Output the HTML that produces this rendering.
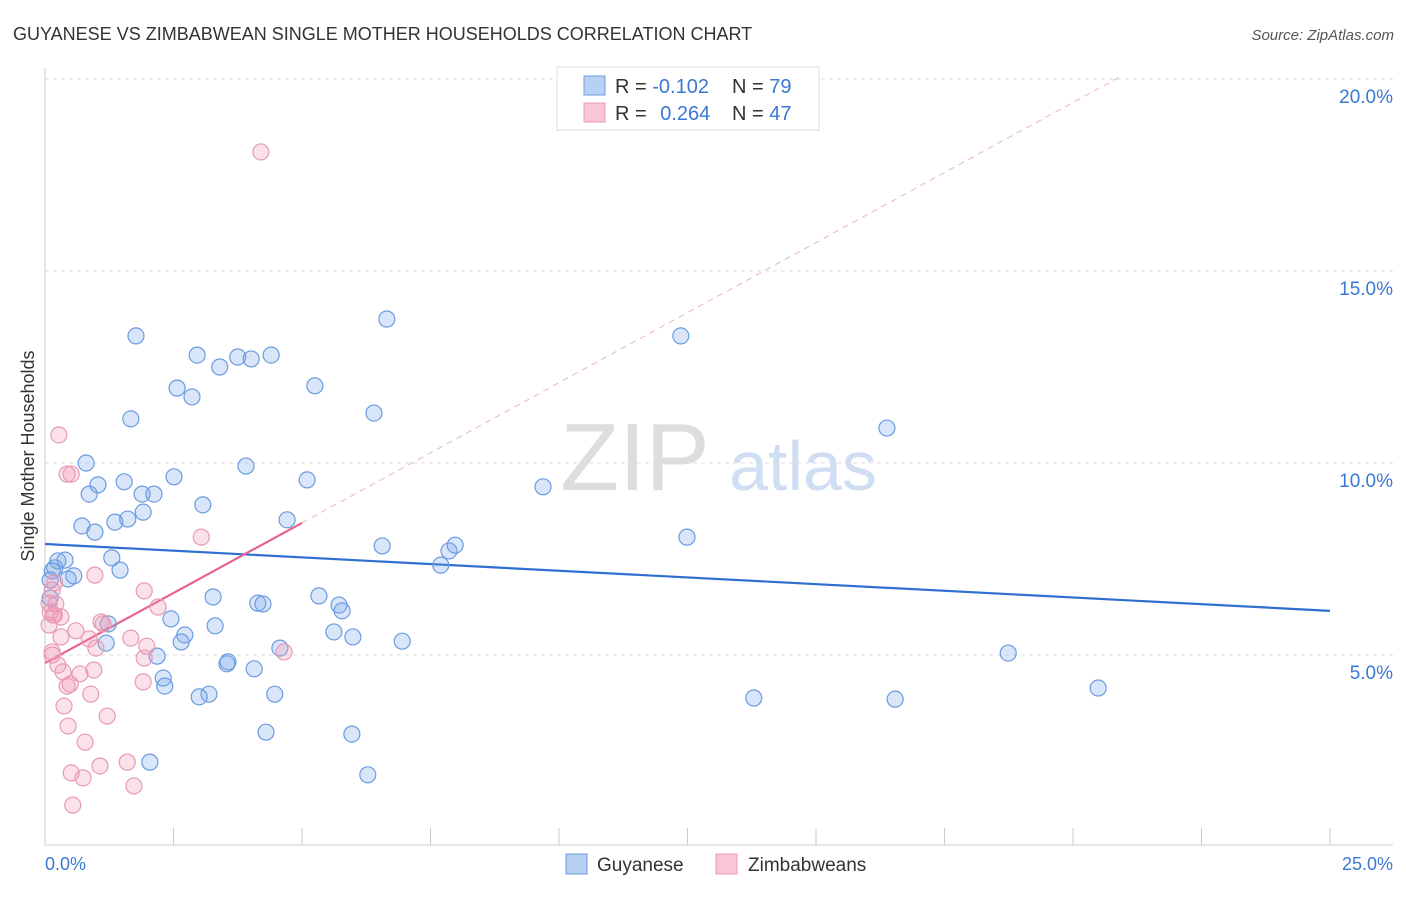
<!DOCTYPE html>
<html><head><meta charset="utf-8">
<style>
body{margin:0;background:#fff;font-family:"Liberation Sans",sans-serif;}
svg text{font-family:"Liberation Sans",sans-serif;}
</style></head>
<body>
<svg id="chart" width="1406" height="892" xmlns="http://www.w3.org/2000/svg">
<text x="13" y="40" font-size="18" fill="#333">GUYANESE VS ZIMBABWEAN SINGLE MOTHER HOUSEHOLDS CORRELATION CHART</text>
<text x="1394" y="40" font-size="15" fill="#555" text-anchor="end" font-style="italic">Source: ZipAtlas.com</text>
<g>
<text x="635" y="490" font-size="96" fill="#ddd" font-family="Liberation Serif" text-anchor="middle">ZIP</text>
<text x="803" y="490" font-size="70" fill="#d0def3" text-anchor="middle">atlas</text>
</g>
<g id="grid"></g>
<g id="axes"></g>
<g id="trends"></g>
<g id="points"></g>
<text transform="translate(34,456) rotate(-90)" font-size="18" fill="#333" text-anchor="middle">Single Mother Households</text>
<text x="45" y="870" font-size="18" fill="#3a78d4">0.0%</text>
<text x="1393" y="870" font-size="18" fill="#3a78d4" text-anchor="end">25.0%</text>
<g>
<rect x="557" y="67" width="262" height="63" fill="#fff" stroke="#ddd"/>
<rect x="584" y="76" width="21" height="19" fill="#b7d0f3" stroke="#6a9be0"/>
<rect x="584" y="103" width="21" height="19" fill="#f9c6d5" stroke="#e89ab5"/>
<text x="615" y="93" font-size="20" fill="#333">R = <tspan fill="#3a78d4">-0.102</tspan><tspan x="732">N = </tspan><tspan fill="#3a78d4">79</tspan></text>
<text x="615" y="120" font-size="20" fill="#333">R = <tspan fill="#3a78d4" dx="8">0.264</tspan><tspan x="732">N = </tspan><tspan fill="#3a78d4">47</tspan></text>
</g>
<g>
<rect x="566" y="854" width="21" height="20" fill="#b7d0f3" stroke="#6a9be0"/>
<text x="597" y="871" font-size="19" fill="#333">Guyanese</text>
<rect x="716" y="854" width="21" height="20" fill="#f9c6d5" stroke="#e89ab5"/>
<text x="748" y="871" font-size="19" fill="#333">Zimbabweans</text>
</g>
</svg>
<script>
const blueX=[1.77,2.96,3.75,4.01,4.40,3.40,2.57,2.86,5.25,6.65,12.37,6.40,1.67,16.38,0.80,3.91,2.51,5.10,1.54,1.03,0.86,1.89,2.12,9.69,3.07,1.91,4.71,0.72,1.36,1.61,0.97,12.49,6.56,7.86,7.98,7.70,1.30,1.46,0.39,0.25,0.19,0.14,0.45,0.56,0.10,0.10,3.27,4.14,4.24,5.33,5.72,5.78,2.45,3.31,1.23,2.72,2.65,5.62,5.99,6.95,4.57,1.19,2.18,3.56,3.54,4.07,2.30,2.33,18.74,3.19,3.00,4.47,13.79,16.54,20.49,4.30,5.97,2.04,6.28];
const blueY=[13.31,12.81,12.76,12.71,12.81,12.50,11.95,11.72,12.01,13.75,13.31,11.30,11.15,10.91,10.00,9.92,9.64,9.56,9.51,9.43,9.19,9.19,9.19,9.38,8.91,8.72,8.52,8.36,8.46,8.54,8.20,8.07,7.84,7.71,7.86,7.34,7.53,7.21,7.47,7.45,7.27,7.19,6.98,7.06,6.95,6.48,6.51,6.35,6.33,6.54,6.30,6.15,5.94,5.76,5.81,5.52,5.34,5.60,5.47,5.36,5.18,5.31,4.97,4.82,4.77,4.64,4.40,4.19,5.05,3.98,3.91,3.98,3.88,3.85,4.14,2.99,2.94,2.21,1.88];
const pinkX=[4.20,0.27,0.43,0.51,3.04,0.97,0.19,0.14,1.93,0.08,0.21,0.31,0.18,2.20,0.10,1.09,0.60,1.13,0.31,1.67,0.86,0.99,1.98,4.65,1.93,0.14,0.25,0.95,0.35,0.68,0.43,0.49,1.91,0.89,0.37,1.21,0.45,0.78,1.60,1.07,0.51,0.74,1.73,0.54,0.16,0.08,0.14];
const pinkY=[18.10,10.73,9.71,9.71,8.07,7.08,6.88,6.69,6.67,6.35,6.33,5.99,6.04,6.25,6.12,5.86,5.63,5.81,5.47,5.44,5.42,5.18,5.23,5.08,4.92,5.08,4.74,4.61,4.56,4.51,4.19,4.24,4.30,3.98,3.67,3.41,3.15,2.73,2.21,2.11,1.93,1.80,1.59,1.09,6.04,5.78,5.00];
const blueTrend=[7.89,6.15]; // y at x=0 and x=25
const pinkTrend=[4.79,0.73];  // intercept, slope
const yTicks=[5,10,15,20];
const yTickLabels=["5.0%","10.0%","15.0%","20.0%"];
const xTicks=[0,2.5,5,7.5,10,12.5,15,17.5,20,22.5,25];

const NS="http://www.w3.org/2000/svg";
function X(v){return 45+51.4*v;}
function Y(v){return 847-38.4*v;}
function mk(tag,attrs,parent){const e=document.createElementNS(NS,tag);for(const k in attrs)e.setAttribute(k,attrs[k]);document.getElementById(parent).appendChild(e);return e;}

yTicks.forEach((t,i)=>{
  const l=mk('line',{x1:45,x2:1393,y1:Y(t),y2:Y(t),stroke:'#ddd','stroke-dasharray':'4,4'},'grid');
  
  
  const tx=mk('text',{x:1393,y:Y(t)+24,'font-size':19,fill:'#3a78d4','text-anchor':'end'},'grid');
  tx.textContent=yTickLabels[i];
  
  
});
let a=mk('line',{x1:45,x2:45,y1:68,y2:845,stroke:'#ccc'},'axes');


a=mk('line',{x1:45,x2:1393,y1:845,y2:845,stroke:'#ccc'},'axes');


xTicks.forEach(t=>{
  const l=mk('line',{x1:X(t),x2:X(t),y1:828,y2:845,stroke:'#ccc'},'axes');
  
  
});

function pt(xs,ys,fill,stroke,name){
  xs.forEach((x,i)=>{
    const c=mk('circle',{cx:X(x),cy:Y(ys[i]),r:8,fill:fill,stroke:stroke,'stroke-width':1.2},'points');
    
    
  });
}
pt(blueX,blueY,'rgba(120,165,235,0.28)','#6a9be0','guyanese-point');
pt(pinkX,pinkY,'rgba(240,150,180,0.28)','#e89ab5','zimbabwean-point');

let t=mk('line',{x1:X(0),y1:Y(blueTrend[0]),x2:X(25),y2:Y(blueTrend[1]),stroke:'#2f6fd0','stroke-width':2.2},'trends');


const xe=(20.05-pinkTrend[0])/pinkTrend[1];
t=mk('line',{x1:X(5),y1:Y(pinkTrend[0]+5*pinkTrend[1]),x2:X(xe),y2:Y(pinkTrend[0]+xe*pinkTrend[1]),stroke:'#eab3c6','stroke-width':1,'stroke-dasharray':'6,5'},'trends');


t=mk('line',{x1:X(0),y1:Y(pinkTrend[0]),x2:X(5),y2:Y(pinkTrend[0]+5*pinkTrend[1]),stroke:'#e8628f','stroke-width':2.2},'trends');


</script>
</body></html>
